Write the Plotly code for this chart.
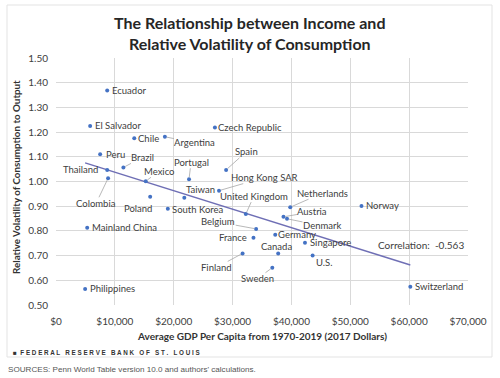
import numpy as np
import plotly.graph_objects as go

countries = ["Ecuador", "El Salvador", "Chile", "Argentina", "Czech Republic", "Peru", "Brazil",
             "Thailand", "Colombia", "Mexico", "Portugal", "Spain", "Hong Kong SAR", "Taiwan",
             "United Kingdom", "Netherlands", "Austria", "Denmark", "Belgium", "France", "Germany",
             "Singapore", "Canada", "U.S.", "Finland", "Sweden", "Poland", "South Korea",
             "Mainland China", "Philippines", "Norway", "Switzerland"]
gdp = [8700, 5800, 13300, 18500, 27000, 7500, 11450,
       8700, 8850, 15250, 22600, 28900, 27700, 21800,
       32250, 39800, 38650, 39250, 34000, 33550, 37250,
       42300, 37750, 43600, 31700, 36750, 16000, 19000,
       5300, 4950, 51900, 60200]
volatility = [1.368, 1.225, 1.175, 1.181, 1.219, 1.110, 1.057,
              1.047, 1.013, 1.001, 1.009, 1.047, 0.963, 0.934,
              0.868, 0.896, 0.857, 0.849, 0.808, 0.772, 0.784,
              0.752, 0.709, 0.700, 0.709, 0.651, 0.938, 0.890,
              0.813, 0.565, 0.901, 0.574]
# label offsets (pixels) and whether a leader line is drawn
label_dx = [22, 28, 14, 30, 35, 15, 19, -27, -12, 13, 2, 20, 45, 16, 8, 32, 29, 35, -38, -20, 22,
            26, -2, 11, -26, -15, -12, 30, 37, 27, 21, 29]
label_dy = [0, 0, 0, 6, 0, 0, -10, 0, 25, -10, -17, -18, -13, -8, -18, -14, -5, 7, -7, 0, 0,
            0, -7, 7, 14, 11, 12, 1, 0, 0, 0, 0]
leader = [0, 0, 0, 1, 0, 0, 1, 0, 1, 1, 1, 1, 1, 0, 1, 1, 1, 1, 1, 0, 0,
          0, 0, 0, 1, 1, 0, 0, 0, 0, 0, 0]

x_ticks = [0, 10000, 20000, 30000, 40000, 50000, 60000, 70000]
y_ticks = [0.5, 0.6, 0.7, 0.8, 0.9, 1.0, 1.1, 1.2, 1.3, 1.4, 1.5]
correlation_text = "Correlation:  -0.563"

TXT = "#404040"
FONT = "Lato"

gx = np.array(gdp, dtype=float)
gy = np.array(volatility, dtype=float)
slope, intercept = np.polyfit(gx, gy, 1)
tx = np.array([gx.min(), gx.max()])
ty = slope * tx + intercept

fig = go.Figure()
fig.add_trace(go.Scatter(x=tx, y=ty, mode="lines", line=dict(color="#6f6fb5", width=1.4),
                         hoverinfo="skip", showlegend=False))
fig.add_trace(go.Scatter(x=gdp, y=volatility, mode="markers", text=countries,
                         marker=dict(color="#4472c4", size=4), showlegend=False))

annotations = []
for c, x, y, dx, dy, ld in zip(countries, gdp, volatility, label_dx, label_dy, leader):
    annotations.append(dict(
        x=x, y=y, xref="x", yref="y", text=c, showarrow=True, ax=dx, ay=dy,
        arrowhead=0, arrowwidth=0.8, standoff=2,
        arrowcolor="#a6a6a6" if ld else "rgba(0,0,0,0)",
        font=dict(family=FONT, size=9.5, color=TXT), borderpad=0))

annotations += [
    dict(text="<b>The Relationship between Income and<br>Relative Volatility of Consumption</b>",
         xref="paper", yref="paper", x=(249 - 56) / 412, y=(305 - 33) / 247, xanchor="center",
         yanchor="middle", showarrow=False, font=dict(family=FONT, size=16, color="#262626")),
    dict(text="<b>Relative Volatility of Consumption to Output</b>", xref="paper", yref="paper",
         x=(16 - 56) / 412, y=(305 - 177) / 247, textangle=-90, xanchor="center", yanchor="middle",
         showarrow=False, font=dict(family=FONT, size=9.8, color="#333333")),
    dict(text="<b>Average GDP Per Capita from 1970-2019 (2017 Dollars)</b>", xref="paper",
         yref="paper", x=(262 - 56) / 412, y=(305 - 336) / 247, xanchor="center",
         yanchor="middle", showarrow=False, font=dict(family=FONT, size=10, color="#333333")),
    dict(text=correlation_text, xref="paper", yref="paper", x=(421 - 56) / 412,
         y=(305 - 245) / 247, xanchor="center", yanchor="middle", showarrow=False,
         font=dict(family=FONT, size=10, color=TXT)),
    dict(text="<b>■  F E D E R A L   R E S E R V E   B A N K   O F   S T .   L O U I S</b>",
         xref="paper", yref="paper", x=(11 - 56) / 412, y=(305 - 352) / 247, xanchor="left",
         yanchor="middle", showarrow=False, font=dict(family="Liberation Sans", size=6.3, color="#333333")),
    dict(text="SOURCES: Penn World Table version 10.0 and authors' calculations.",
         xref="paper", yref="paper", x=(6 - 56) / 412, y=(305 - 369) / 247, xanchor="left",
         yanchor="middle", showarrow=False, font=dict(family="Liberation Sans", size=8.1, color="#555555")),
]

fig.update_layout(
    width=500, height=378, autosize=False,
    margin=dict(l=56, r=32, t=58, b=73),
    paper_bgcolor="white", plot_bgcolor="white",
    annotations=annotations,
    shapes=[dict(type="rect", xref="paper", yref="paper",
                 x0=(7 - 56) / 412, x1=(492 - 56) / 412,
                 y0=(305 - 357) / 247, y1=(305 - 5) / 247,
                 line=dict(color="#e3e3e3", width=1), layer="below")],
    xaxis=dict(range=[0, 70000], tickvals=x_ticks, tickformat="$,.0f", showgrid=True,
               gridcolor="#d9d9d9", gridwidth=0.8, zeroline=False, showline=False,
               ticks="", ticklabelstandoff=9,
               tickfont=dict(family=FONT, size=10, color=TXT)),
    yaxis=dict(range=[0.5, 1.5], tickvals=y_ticks, tickformat=".2f", showgrid=True,
               gridcolor="#d9d9d9", gridwidth=0.8, zeroline=False, showline=False,
               ticks="", ticklabelstandoff=7,
               tickfont=dict(family=FONT, size=10, color=TXT)),
    hovermode="closest",
)

fig.write_html("out.html", config={"displayModeBar": False},
               post_script="document.body.style.margin='0';document.body.style.overflow='hidden';")
